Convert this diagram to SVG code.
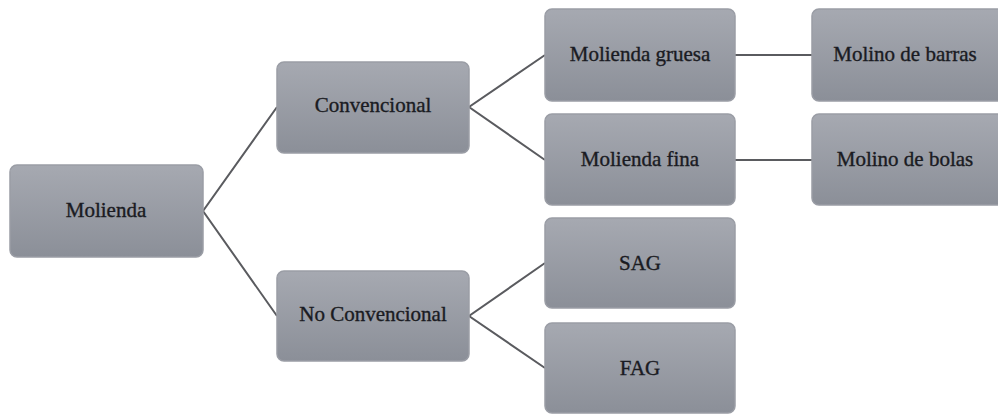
<svg xmlns="http://www.w3.org/2000/svg" width="998" height="414" viewBox="0 0 998 414">
<defs>
<linearGradient id="g" x1="0" y1="0" x2="0" y2="1">
<stop offset="0" stop-color="#a6a9b1"/>
<stop offset="1" stop-color="#8b8f98"/>
</linearGradient>
<style>
.box{fill:url(#g);stroke:#9a9da5;stroke-width:1.5}
.t{font-family:'Liberation Serif','DejaVu Serif','Times New Roman',serif;font-size:21px;fill:#1a1b22;stroke:#1a1b22;stroke-width:0.35;text-anchor:middle}
.c{stroke:#5a5b5f;stroke-width:2;fill:none}
</style>
</defs>
<rect width="998" height="414" fill="#ffffff"/>
<g id="connectors">
<polyline class="c" points="277,107 203,211 277,316"/>
<polyline class="c" points="545,55 469,107 545,160"/>
<polyline class="c" points="545,263 469,316 545,368"/>
<line class="c" x1="735" y1="55" x2="812" y2="55"/>
<line class="c" x1="735" y1="160" x2="812" y2="160"/>
</g>
<g id="molienda"><rect class="box" x="10" y="165" width="193" height="92" rx="7"/><text class="t" x="106" y="217">Molienda</text></g>
<g id="convencional"><rect class="box" x="277" y="62" width="192" height="91" rx="7"/><text class="t" x="373" y="112">Convencional</text></g>
<g id="no-convencional"><rect class="box" x="277" y="271" width="192" height="90" rx="7"/><text class="t" x="373" y="321">No Convencional</text></g>
<g id="molienda-gruesa"><rect class="box" x="545" y="9" width="190" height="92" rx="7"/><text class="t" x="640" y="61">Molienda gruesa</text></g>
<g id="molienda-fina"><rect class="box" x="545" y="114" width="190" height="91" rx="7"/><text class="t" x="640" y="166">Molienda fina</text></g>
<g id="sag"><rect class="box" x="545" y="218" width="190" height="90" rx="7"/><text class="t" x="640" y="270">SAG</text></g>
<g id="fag"><rect class="box" x="545" y="323" width="190" height="90" rx="7"/><text class="t" x="640" y="375">FAG</text></g>
<g id="molino-barras"><rect class="box" x="812" y="9" width="192" height="92" rx="7"/><text class="t" x="905" y="61">Molino de barras</text></g>
<g id="molino-bolas"><rect class="box" x="812" y="114" width="192" height="91" rx="7"/><text class="t" x="905" y="166">Molino de bolas</text></g>
</svg>
